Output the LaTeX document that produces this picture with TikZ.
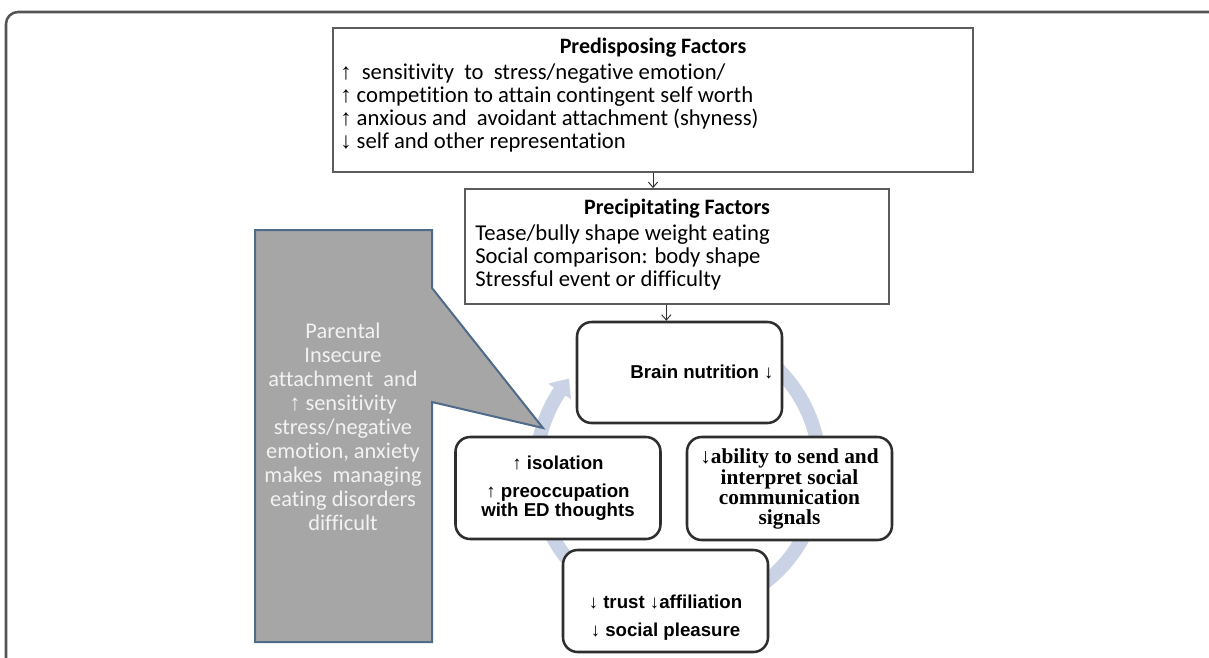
\documentclass[tikz,border=0pt]{standalone}
\usepackage{fontspec}
\setmainfont{Carlito}[Ligatures=NoCommon]
\newfontfamily\symfont{Liberation Sans}
\newfontfamily\cyclefont{Liberation Sans}
\newfontfamily\cycleserif{Liberation Serif}
\usetikzlibrary{arrows.meta,bending,calc}

\definecolor{framegray}{HTML}{555555}
\definecolor{boxgray}{HTML}{5C5C5C}
\definecolor{roundgray}{HTML}{2E2E2E}
\definecolor{calloutfill}{HTML}{A6A6A6}
\definecolor{calloutedge}{HTML}{4F6A8A}
\definecolor{callouttext}{HTML}{F2F2F2}
\definecolor{cyclecol}{HTML}{C9D3E5}

% up and down arrows taken from a font that has them
\newcommand\ua{{\symfont ↑}}
\newcommand\da{{\symfont ↓}}

\tikzset{
  frameline/.style={draw=framegray, line width=1.9pt, rounded corners=9pt},
  rectbox/.style={draw=boxgray, line width=1.4pt, fill=white, inner sep=0pt},
  roundbox/.style={draw=roundgray, line width=1.9pt, fill=white, rounded corners=11pt,
                   inner sep=0pt, minimum width=153.75pt, minimum height=76.5pt},
  conn/.style={draw=roundgray, line width=0.7pt, -{Straight Barb[length=4pt,width=7pt]}},
  cyclearrow/.style={draw=cyclecol, line width=10.5pt,
                     -{Triangle[bend,width=20pt,length=12pt]}},
  callout/.style={fill=calloutfill, draw=calloutedge, line width=1.5pt},
  txt/.style={inner sep=0pt, font=\fontsize{17}{20}\selectfont},
  ttl/.style={inner sep=0pt, font=\fontsize{16.5}{20}\selectfont\bfseries},
  ctxt/.style={inner sep=0pt, text=callouttext, font=\fontsize{16.8}{20}\selectfont},
  cyc/.style={inner sep=0pt, font=\cyclefont\bfseries\fontsize{14}{16}\selectfont},
  cycs/.style={inner sep=0pt, font=\cycleserif\bfseries\fontsize{16}{18}\selectfont},
}

\begin{document}
\begin{tikzpicture}[x=0.75pt,y=-0.75pt]
\useasboundingbox (0,0) rectangle (1209,657);
\clip (0,0) rectangle (1209,657);
\fill[white] (0,0) rectangle (1209,657);

% outer frame, open to the right and bottom
\draw[frameline] (6,700) -- (6,12) -- (1260,12);

% cycle ring behind the four stages
\coordinate (ring) at (678,470);
\draw[cyclearrow] ([shift={(250:142)}]ring) arc[start angle=250, end angle=580, radius=142];

% grey speech callout
\filldraw[callout] (255,230) -- (432,230) -- (432,288) -- (543,428) -- (432,402)
  -- (432,642) -- (255,642) -- cycle;
\foreach \t [count=\i] in {Parental, Insecure, attachment\ \ and, \ua\ sensitivity,
  stress/negative, {emotion, anxiety}, makes\ \ managing, eating disorders, difficult}
  \node[ctxt, anchor=base] (c\i) at (343,{314+24*\i}) {\t};

% factor boxes
\node[rectbox, minimum width=480pt, minimum height=108pt] (pre) at (653,100) {};
\node[ttl, anchor=base] (preT) at (653,53) {Predisposing Factors};
\node[txt, anchor=base west] (pre1) at (340,79) {\ua\ \ sensitivity\ \ to\ \ stress/negative emotion/};
\node[txt, anchor=base west] (pre2) at (340,102) {\ua\ competition to attain contingent self worth};
\node[txt, anchor=base west] (pre3) at (340,125) {\ua\ anxious and\ \ avoidant attachment (shyness)};
\node[txt, anchor=base west] (pre4) at (340,148) {\da\ self and other representation};

\node[rectbox, minimum width=318pt, minimum height=86.25pt] (prec) at (677,246.5) {};
\node[ttl, anchor=base] (precT) at (677,214) {Precipitating Factors};
\node[txt, anchor=base west] (prec1) at (475,240) {Tease/bully shape weight eating};
\node[txt, anchor=base west] (prec2) at (475,263) {Social comparison: body shape};
\node[txt, anchor=base west] (prec3) at (475,286) {Stressful event or difficulty};

% cycle stages
\node[roundbox, minimum height=75.75pt] (brain) at (679.5,372.5) {};
\node[cyc, anchor=base] (brainT) at (702,378) {Brain nutrition \da};

\node[roundbox] (iso) at (558,488) {};
\node[cyc, anchor=base] (iso1) at (558,469) {\ua\ isolation};
\node[cyc, anchor=base] (iso2) at (558,497) {\ua\ preoccupation};
\node[cyc, anchor=base] (iso3) at (558,516) {with ED thoughts};

\node[roundbox, minimum height=77.25pt] (abil) at (789.5,488.5) {};
\node[cycs, anchor=base] (abil1) at (789.5,463) {\da ability to send and};
\node[cycs, anchor=base] (abil2) at (789.5,484) {interpret social};
\node[cycs, anchor=base] (abil3) at (789.5,504) {communication};
\node[cycs, anchor=base] (abil4) at (789.5,524) {signals};

\node[roundbox] (trust) at (665.5,601) {};
\node[cyc, anchor=base] (trust1) at (665.5,608) {\da\ trust \da affiliation};
\node[cyc, anchor=base] (trust2) at (665.5,636) {\da\ social pleasure};

% links between the stacked boxes
\draw[conn] (pre.south) -- (pre.south |- prec.north);
\draw[conn] ([xshift=-8pt]prec.south) -- ([xshift=-8pt]prec.south |- brain.north);
\end{tikzpicture}
\end{document}
